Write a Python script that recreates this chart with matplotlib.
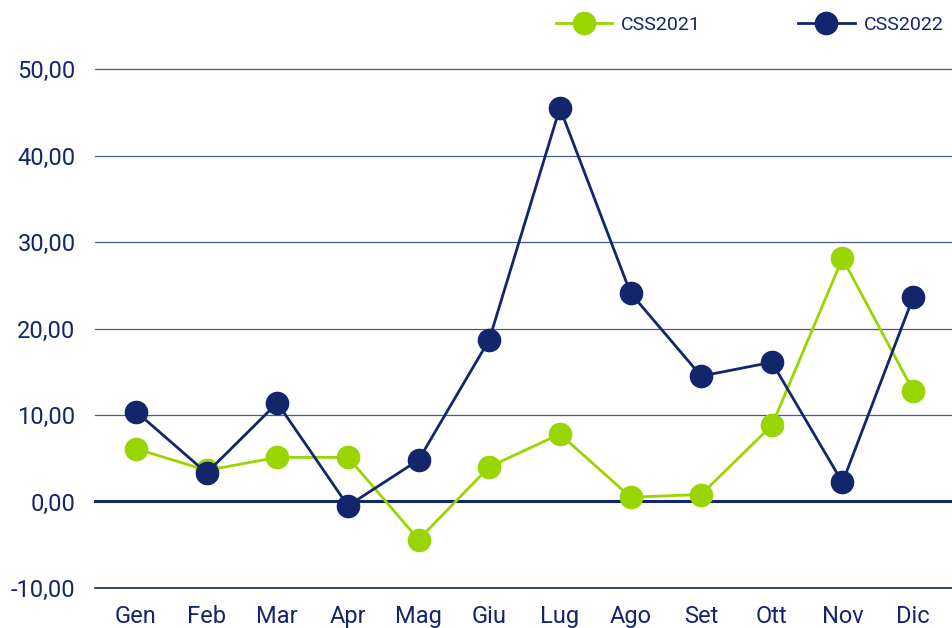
import matplotlib.pyplot as plt
from matplotlib.ticker import FuncFormatter

mesi = ['Gen', 'Feb', 'Mar', 'Apr', 'Mag', 'Giu', 'Lug', 'Ago', 'Set', 'Ott', 'Nov', 'Dic']
css2021 = [6.1, 3.6, 5.1, 5.1, -4.4, 4.0, 7.8, 0.5, 0.8, 8.8, 28.1, 12.8]
css2022 = [10.4, 3.3, 11.4, -0.5, 4.8, 18.7, 45.5, 24.1, 14.5, 16.1, 2.2, 23.6]

verde = '#99d500'
blu = '#13256b'

plt.rcParams['font.family'] = ['Roboto', 'DejaVu Sans']

fig = plt.figure(figsize=(9.52, 6.28), dpi=100)
ax = fig.add_axes([0.0998, 0.0637, 0.9002, 0.8264])

x = range(len(mesi))
ax.plot(x, css2021, color=verde, lw=2, marker='o', ms=16, label='CSS2021', clip_on=False, zorder=3)
ax.plot(x, css2022, color=blu, lw=2, marker='o', ms=16, label='CSS2022', clip_on=False, zorder=4)

ax.set_ylim(-10, 50)
ax.set_xlim(-0.58, 11.55)
ax.set_yticks(range(-10, 51, 10))
ax.set_xticks(list(x))
ax.set_xticklabels(mesi)
ax.yaxis.set_major_formatter(FuncFormatter(lambda v, p: f'{v:.2f}'.replace('.', ',')))

for v in range(-10, 51, 10):
    if v == 0:
        ax.axhline(v, color=blu, lw=2.2, zorder=2, clip_on=False)
    elif v == -10:
        ax.axhline(v, color=blu, lw=1.2, zorder=1, clip_on=False)
    else:
        ax.axhline(v, color='#4a5790', lw=0.9, zorder=1, clip_on=False)

for s in ax.spines.values():
    s.set_visible(False)
ax.tick_params(length=0, labelsize=17, colors=blu)
ax.tick_params(axis='y', pad=14)
ax.tick_params(axis='x', pad=12)

leg = fig.legend(loc='upper right', bbox_to_anchor=(0.997, 0.984), ncol=2, frameon=False,
                 fontsize=14, labelcolor=blu, handlelength=2.9, handletextpad=0.45,
                 columnspacing=5.0, borderpad=0, borderaxespad=0.3)

fig.savefig('out.png', dpi=100)
